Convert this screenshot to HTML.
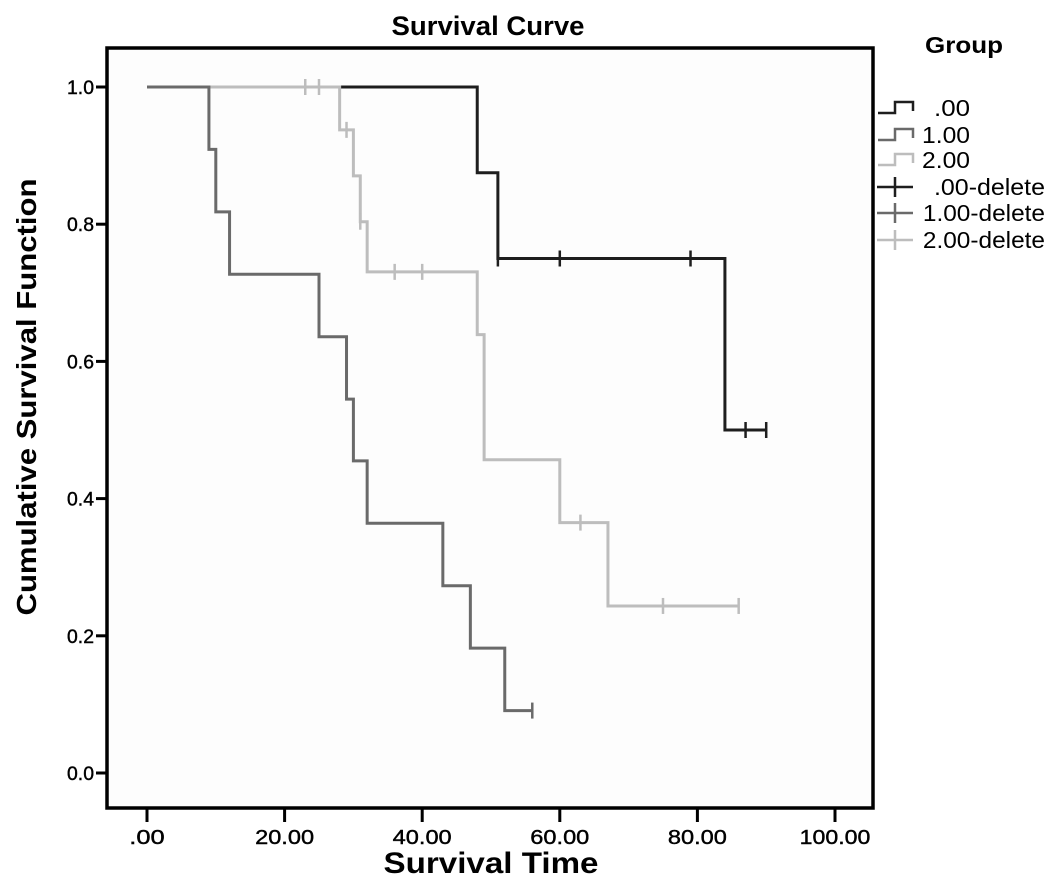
<!DOCTYPE html>
<html><head><meta charset="utf-8"><style>
html,body{margin:0;padding:0;background:#fff;}
svg{display:block;font-family:"Liberation Sans",Arial,sans-serif;}
</style></head><body>
<svg id="chart" width="1063" height="891" viewBox="0 0 1063 891">
<rect x="0" y="0" width="1063" height="891" fill="#fff"/>
<text x="488" y="35" text-anchor="middle" font-size="27" font-weight="bold" textLength="193" lengthAdjust="spacingAndGlyphs">Survival Curve</text>
<rect x="107" y="48" width="766" height="760" fill="#fdfdfd" stroke="#000" stroke-width="3.5"/>
<g id="axes"></g>
<g id="series"></g>
<text transform="translate(36,397) rotate(-90)" text-anchor="middle" font-size="28" font-weight="bold" textLength="437" lengthAdjust="spacingAndGlyphs">Cumulative Survival Function</text>
<text x="491" y="873" text-anchor="middle" font-size="30" font-weight="bold" textLength="215" lengthAdjust="spacingAndGlyphs">Survival Time</text>
<text x="925" y="53" font-size="23" font-weight="bold" textLength="78" lengthAdjust="spacingAndGlyphs">Group</text>
<g id="legend"></g>
</svg>
<script>
const xTicks=[0,20,40,60,80,100];
const xTickLabels=[".00","20.00","40.00","60.00","80.00","100.00"];
const yTicks=[0,0.2,0.4,0.6,0.8,1.0];
const yTickLabels=["0.0","0.2","0.4","0.6","0.8","1.0"];
const groupNames=[".00","1.00","2.00"];
const groupColors=["#1e1e1e","#6a6a6a","#bdbdbd"];
// step curves: event times and survival after each event
const g0Times=[48,51,84,90];
const g0Surv=[0.875,0.75,0.5,0.5];
const g0Censor=[51,60,79,87,90];
const g1Times=[9,10,12,25,29,30,32,43,47,52,56];
const g1Surv=[0.909,0.818,0.727,0.636,0.545,0.455,0.364,0.273,0.182,0.091,0.091];
const g1Censor=[56];
const g2Times=[28,30,31,32,48,49,60,67,86];
const g2Surv=[0.9375,0.8705,0.8036,0.7305,0.639,0.4566,0.365,0.2435,0.2435];
const g2Censor=[23,25,29,31,36,40,63,75,86];

const NS="http://www.w3.org/2000/svg";
function X(v){return 147+v*6.88;}
function Y(v){return 773-v*686;}
function mk(tag,attrs,parent){const e=document.createElementNS(NS,tag);for(const k in attrs)e.setAttribute(k,attrs[k]);parent.appendChild(e);return e;}
const axes=document.getElementById('axes');
xTicks.forEach((t,i)=>{
 const l=mk('line',{x1:X(t),x2:X(t),y1:808,y2:822,stroke:'#000','stroke-width':3},axes);
 
 
 const lab=xTickLabels[i];
 const tx=mk('text',{x:X(t),y:844,'text-anchor':'middle','font-size':20,'stroke':'#000','stroke-width':0.4,textLength:lab.length*11.8,lengthAdjust:'spacingAndGlyphs'},axes);
 tx.textContent=lab;
 
 
});
yTicks.forEach((t,i)=>{
 const l=mk('line',{x1:96,x2:107,y1:Y(t),y2:Y(t),stroke:'#000','stroke-width':3},axes);
 
 
 const tx=mk('text',{x:94,y:Y(t)+7,'text-anchor':'end','font-size':19,'stroke':'#000','stroke-width':0.4,textLength:27,lengthAdjust:'spacingAndGlyphs'},axes);
 tx.textContent=yTickLabels[i];
 
 
});
const series=document.getElementById('series');
function drawGroup(times,surv,cens,color,name){
 let d='M'+X(0)+' '+Y(1);
 times.forEach((t,i)=>{d+=' H'+X(t)+' V'+Y(surv[i]);});
 const p=mk('path',{d:d,fill:'none',stroke:color,'stroke-width':3},series);
 
 
 cens.forEach(c=>{
  let v=1;times.forEach((t,i)=>{if(t<=c)v=surv[i];});
  const l=mk('line',{x1:X(c),x2:X(c),y1:Y(v)-8,y2:Y(v)+8,stroke:color,'stroke-width':2.5},series);
  
  
 });
}
drawGroup(g0Times,g0Surv,g0Censor,groupColors[0],'group-0');
drawGroup(g2Times,g2Surv,g2Censor,groupColors[2],'group-2');
drawGroup(g1Times,g1Surv,g1Censor,groupColors[1],'group-1');
const legend=document.getElementById('legend');
const rows=[108,135,160,187,213,240];
groupNames.forEach((n,i)=>{
 const y=rows[i];
 const p=mk('path',{d:`M878 ${y+5} H895 V${y-6} H913 V${y+3}`,fill:'none',stroke:groupColors[i],'stroke-width':2.5},legend);
 
 
 const t=mk('text',{x:970,y:y+8,'text-anchor':'end','font-size':23,textLength:n.length*12,lengthAdjust:'spacingAndGlyphs'},legend);
 t.textContent=n;
 
 
 const y2=rows[i+3];
 const h=mk('path',{d:`M877 ${y2} H913 M895 ${y2-10} V${y2+10}`,fill:'none',stroke:groupColors[i],'stroke-width':2.5},legend);
 
 
 const lab2=n+'-delete';
 const t2=mk('text',{x:1045,y:y2+8,'text-anchor':'end','font-size':23,textLength:lab2.length*11.1,lengthAdjust:'spacingAndGlyphs'},legend);
 t2.textContent=lab2;
 
 
});
</script>
</body></html>
